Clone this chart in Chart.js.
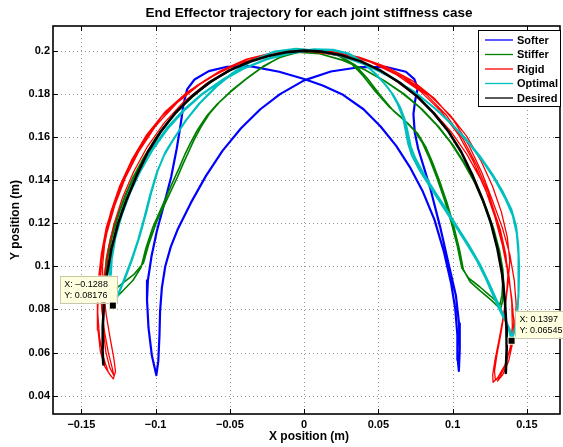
<!DOCTYPE html>
<html>
<head>
<meta charset="utf-8">
<title>End Effector trajectory</title>
<script src="https://cdn.jsdelivr.net/npm/chart.js@4.4.1/dist/chart.umd.min.js"></script>
<style>
  html, body { margin: 0; padding: 0; background: #ffffff; }
  #wrap { width: 563px; height: 447px; }
</style>
</head>
<body>
<div id="wrap"><canvas id="c" width="563" height="447"></canvas></div>
<script>
// ---- axis ticks ----
const xTickValues = [-0.15, -0.1, -0.05, 0, 0.05, 0.1, 0.15];
const xTickLabels = ['\u22120.15', '\u22120.1', '\u22120.05', '0', '0.05', '0.1', '0.15'];
const yTickValues = [0.04, 0.06, 0.08, 0.1, 0.12, 0.14, 0.16, 0.18, 0.2];
const yTickLabels = ['0.04', '0.06', '0.08', '0.1', '0.12', '0.14', '0.16', '0.18', '0.2'];

// ---- series names ----
const seriesNames = ['Softer', 'Stiffer', 'Rigid', 'Optimal', 'Desired'];

// ---- trajectories, [x, y] in metres ----
const softerPath = [
  [-0.0995,0.0495],[-0.0982,0.056],[-0.0974,0.068],[-0.097,0.079],[-0.0958,0.09],[-0.0935,0.1],[-0.0898,0.109],[-0.0852,0.117],
  [-0.0762,0.1295],[-0.0662,0.1418],[-0.055,0.1535],[-0.0425,0.164],[-0.0295,0.1728],[-0.0162,0.1798],[0.0,0.1862],[0.018,0.1903],
  [0.038,0.1924],[0.056,0.1923],[0.0685,0.1902],[0.0742,0.1868],[0.0765,0.1825],[0.0748,0.177],[0.0736,0.1705],[0.0745,0.162],
  [0.0768,0.1545],[0.0808,0.1455],[0.0852,0.1355],[0.0915,0.1185],[0.0975,0.1005],[0.1022,0.0865],[0.1043,0.0735],[0.1048,0.0615],[0.1042,0.0515],
  [0.1035,0.0565],[0.1032,0.068],[0.1018,0.08],[0.099,0.092],[0.0942,0.1065],[0.0878,0.1215],[0.08,0.1345],[0.0712,0.146],
  [0.062,0.1558],[0.0515,0.1648],[0.04,0.1728],[0.0262,0.1795],[0.0125,0.1838],[0.0,0.1868],[-0.0168,0.1902],[-0.0365,0.1928],
  [-0.052,0.1925],[-0.0642,0.1905],[-0.0738,0.1866],[-0.0788,0.182],[-0.0812,0.1752],[-0.0832,0.1655],[-0.0858,0.1545],[-0.0895,0.1415],
  [-0.0948,0.1275],[-0.0992,0.1162],[-0.1028,0.1045],[-0.1052,0.0935],[-0.1058,0.0845],[-0.1048,0.0715],[-0.1025,0.0585],[-0.0995,0.0495]
];

const stifferPath = [
  [-0.1288,0.0818],[-0.1315,0.0848],[-0.1332,0.0895],[-0.1336,0.096],[-0.1322,0.104],[-0.1295,0.113],[-0.1255,0.1225],[-0.1205,0.132],
  [-0.1145,0.1415],[-0.1075,0.1505],[-0.0995,0.1595],[-0.0905,0.1678],[-0.0805,0.1752],[-0.0695,0.182],[-0.0575,0.1878],[-0.0445,0.1928],
  [-0.0305,0.1965],[-0.016,0.1988],[-0.002,0.1998],[0.012,0.1995],[0.024,0.1975],
  [0.034,0.1935],[0.0425,0.1872],[0.051,0.1795],[0.0605,0.1718],[0.0695,0.1665],[0.0765,0.1615],[0.0818,0.1555],[0.0862,0.1485],
  [0.0912,0.1395],[0.0962,0.1295],[0.1008,0.1185],[0.1045,0.108],[0.1072,0.0985],
  [0.1118,0.0928],[0.1188,0.0885],[0.1262,0.0842],[0.1322,0.0802],
  [0.1338,0.0842],[0.1345,0.0905],[0.1338,0.0985],[0.1315,0.1075],[0.1278,0.117],[0.1228,0.1268],[0.1165,0.137],[0.109,0.1468],
  [0.1002,0.1562],[0.0905,0.1648],[0.0795,0.1728],[0.0675,0.1798],[0.0545,0.1858],[0.0405,0.1912],[0.0258,0.1955],[0.0108,0.1985],
  [-0.0035,0.1992],[-0.0158,0.197],
  [-0.0278,0.1926],[-0.038,0.1875],[-0.048,0.182],[-0.0565,0.1765],[-0.0635,0.171],[-0.0695,0.1645],[-0.0742,0.1585],[-0.0775,0.1535],
  [-0.0815,0.1475],[-0.0852,0.1415],[-0.0925,0.1308],[-0.0995,0.1203],[-0.1045,0.1105],[-0.1082,0.1015],
  [-0.1142,0.0965],[-0.1215,0.0925],[-0.1288,0.0885],[-0.1325,0.0862],
  [-0.1335,0.0885],[-0.1342,0.095],[-0.1332,0.1035],[-0.1305,0.1125],[-0.1265,0.1222],[-0.1212,0.1318],[-0.1152,0.1412],[-0.1082,0.1502],
  [-0.1002,0.1592],[-0.0912,0.1675],[-0.0812,0.175],[-0.0702,0.1818],[-0.058,0.1877],[-0.045,0.1927],[-0.031,0.1964],[-0.0165,0.1988],
  [-0.0025,0.1998],[0.011,0.1996],[0.022,0.198],
  [0.031,0.1945],[0.0395,0.1885],[0.048,0.181],[0.0575,0.1738],[0.0668,0.1682],[0.0742,0.163],[0.0798,0.157],[0.0845,0.1498],
  [0.0895,0.1408],[0.0945,0.1308],[0.0992,0.12],[0.1032,0.1092],[0.1062,0.0992],
  [0.1108,0.0945],[0.1182,0.0905],[0.1255,0.0862],[0.1318,0.0822],
  [0.1332,0.0865],[0.1338,0.093],[0.1328,0.101],[0.1302,0.1098],[0.1262,0.1192],[0.1212,0.1288],[0.1148,0.1388],[0.1072,0.1482],
  [0.0985,0.1575],[0.0888,0.1658],[0.078,0.1735],[0.0662,0.1802],[0.0535,0.1862],[0.0398,0.1915],[0.0252,0.1957],[0.0105,0.1985],
  [-0.0045,0.1993],[-0.0172,0.1966],
  [-0.0292,0.1918],[-0.0395,0.1865],[-0.0495,0.1808],[-0.0585,0.1752],[-0.0658,0.1695],[-0.0718,0.1632],[-0.0765,0.1572],[-0.0805,0.1515],
  [-0.0842,0.1455],[-0.0885,0.139],[-0.0952,0.1285],[-0.1018,0.1182],[-0.1065,0.1085],[-0.1098,0.0995],
  [-0.1152,0.0935],[-0.1222,0.0885],[-0.1298,0.0835]
];

const rigidPath = [
  [-0.1302,0.0492],[-0.1342,0.0535],[-0.1372,0.0605],[-0.1388,0.0705],[-0.1392,0.082],[-0.1385,0.094],[-0.1365,0.106],[-0.1332,0.118],
  [-0.1278,0.1302],[-0.1205,0.1425],[-0.1112,0.1542],[-0.0995,0.1655],[-0.0855,0.1758],[-0.0705,0.1842],[-0.0545,0.191],[-0.0375,0.1962],
  [-0.0195,0.1993],[-0.001,0.2006],[0.018,0.1998],[0.037,0.197],[0.0555,0.1925],[0.0725,0.1862],[0.0878,0.1778],[0.1008,0.1675],
  [0.1112,0.1558],[0.1198,0.1432],[0.1268,0.1305],[0.1335,0.1178],[0.1385,0.1055],[0.1415,0.0935],[0.1428,0.0822],[0.142,0.0722],
  [0.1392,0.0625],[0.1352,0.0542],[0.1302,0.0482],[0.1272,0.0462],[0.127,0.0498],[0.1285,0.0565],[0.131,0.065],[0.1338,0.0755],[0.1362,0.0865],
  [0.1372,0.0955],[0.1358,0.1055],[0.1322,0.1168],[0.1265,0.1285],[0.1188,0.1405],[0.1095,0.152],[0.0988,0.1625],[0.0868,0.1718],
  [0.0732,0.1802],[0.058,0.1878],[0.041,0.1938],[0.0225,0.1978],[0.0035,0.1997],[-0.0155,0.1988],[-0.0338,0.1958],[-0.051,0.1908],
  [-0.0668,0.1842],[-0.0812,0.1762],[-0.0942,0.1665],[-0.1055,0.1555],[-0.1148,0.1438],[-0.1225,0.1315],[-0.1282,0.1192],[-0.1322,0.1068],
  [-0.1348,0.0945],[-0.1358,0.0822],[-0.1352,0.0702],[-0.1335,0.0602],[-0.1308,0.0528],[-0.1282,0.0495],
  [-0.1292,0.0528],[-0.1318,0.0598],[-0.1342,0.0688],[-0.1362,0.0795],[-0.1372,0.0912],[-0.1365,0.1022],[-0.1342,0.1135],[-0.1302,0.1252],
  [-0.1242,0.1372],[-0.1162,0.1492],[-0.1062,0.1608],[-0.0938,0.1715],[-0.0792,0.1805],[-0.063,0.1878],[-0.0455,0.1935],[-0.027,0.1975],
  [-0.008,0.1997],[0.0112,0.1998],[0.0302,0.1978],[0.0488,0.1938],[0.0662,0.1878],[0.082,0.1798],[0.0958,0.17],[0.1072,0.1588],
  [0.1165,0.1465],[0.1242,0.1338],[0.1302,0.1208],[0.1348,0.1078],[0.138,0.0952],[0.1398,0.0832],[0.1402,0.0722],[0.1388,0.0625],
  [0.1358,0.0545],[0.1318,0.0488],[0.1288,0.0472],[0.1282,0.0512],[0.1298,0.0588],[0.1325,0.0688],[0.1352,0.0802],[0.1372,0.0915],
  [0.1385,0.1025],[0.1368,0.1135],[0.1328,0.1252],[0.1268,0.1372],[0.119,0.149],[0.1095,0.1602],[0.0982,0.1702],[0.0852,0.1788],
  [0.0705,0.1862],[0.0542,0.1922],[0.0365,0.1968],[0.0178,0.1995],[-0.0012,0.2003],[-0.0202,0.1992],[-0.0388,0.196],[-0.0565,0.1906],
  [-0.0728,0.1835],[-0.0875,0.1748],[-0.1005,0.1645],[-0.1115,0.153],[-0.1205,0.1408],[-0.1275,0.1282],[-0.1328,0.1155],[-0.1365,0.1028],
  [-0.1385,0.0905],[-0.139,0.0785],[-0.1378,0.0672],[-0.1352,0.0578],[-0.1318,0.0508],[-0.1285,0.0478],[-0.127,0.0512],
  [-0.1282,0.0575],[-0.1305,0.0662],[-0.1332,0.0772],[-0.1352,0.0885],[-0.1358,0.0998],[-0.1342,0.1112],[-0.1305,0.1228],[-0.1248,0.1348],
  [-0.1172,0.1468],[-0.1078,0.1585],[-0.0962,0.1692],[-0.0825,0.1785],[-0.0668,0.1862],[-0.0495,0.1924],[-0.0312,0.1968],[-0.0122,0.1994],
  [0.007,0.2],[0.0262,0.1984],[0.0448,0.1946],[0.0622,0.1888],[0.0782,0.1812],[0.0922,0.1718],[0.1042,0.1608],[0.114,0.1485],
  [0.122,0.1358],[0.1285,0.1228],[0.1335,0.1098],[0.1372,0.0972],[0.1398,0.0852],[0.1412,0.0745],[0.1405,0.0648],[0.1378,0.0562],
  [0.1338,0.0498],[0.1302,0.0468]
];

const optimalPath = [
  [-0.1272,0.0828],[-0.1292,0.0875],[-0.1302,0.095],[-0.1295,0.1035],[-0.127,0.1135],[-0.1228,0.1238],[-0.1172,0.134],[-0.1102,0.1442],
  [-0.1018,0.1542],[-0.0922,0.1635],[-0.0812,0.172],[-0.069,0.1795],[-0.0555,0.186],[-0.041,0.1915],[-0.0255,0.1958],[-0.0095,0.1988],
  [0.006,0.2003],[0.0185,0.2003],[0.0285,0.1988],
  [0.038,0.1952],[0.0465,0.1902],[0.0535,0.1852],[0.0585,0.1808],[0.063,0.1752],[0.0665,0.1692],[0.0685,0.1625],[0.07,0.157],
  [0.0725,0.1515],[0.0775,0.1448],[0.0842,0.1375],[0.0922,0.129],[0.1002,0.1205],[0.1082,0.1118],[0.1158,0.1033],[0.1222,0.0945],
  [0.1275,0.0862],[0.1325,0.0785],[0.1372,0.0725],[0.1397,0.06545],
  [0.1418,0.0702],[0.1432,0.0768],[0.1442,0.0855],[0.1445,0.0952],[0.1442,0.1055],[0.1432,0.1152],[0.1405,0.1235],[0.1352,0.1318],
  [0.1282,0.1405],[0.1202,0.1488],[0.1112,0.1568],[0.1012,0.1645],[0.0898,0.1722],[0.0768,0.1795],[0.0622,0.1862],[0.0462,0.1922],
  [0.029,0.1968],[0.0112,0.1998],[-0.0055,0.2008],[-0.0198,0.1996],
  [-0.0335,0.1958],[-0.0468,0.1902],[-0.0588,0.1835],[-0.0695,0.1762],[-0.0792,0.168],[-0.0875,0.1595],[-0.0935,0.1528],[-0.0985,0.1445],
  [-0.1028,0.1345],[-0.1065,0.1245],[-0.1108,0.1138],[-0.1155,0.1038],[-0.1205,0.0945],[-0.1252,0.0868],[-0.1282,0.0822],
  [-0.1298,0.0882],[-0.131,0.0962],[-0.1302,0.1048],[-0.1275,0.1148],[-0.1232,0.125],[-0.1175,0.1352],[-0.1105,0.1452],[-0.102,0.155],
  [-0.0922,0.1642],[-0.081,0.1726],[-0.0686,0.18],[-0.055,0.1865],[-0.0403,0.1919],[-0.0248,0.1962],[-0.0088,0.1992],[0.0068,0.2006],
  [0.0195,0.2004],[0.0305,0.1985],
  [0.0398,0.1945],[0.0482,0.1892],[0.055,0.184],[0.0602,0.1792],[0.0648,0.1735],[0.0682,0.1672],[0.0702,0.1608],[0.0718,0.1555],
  [0.0748,0.1502],[0.0802,0.1432],[0.0872,0.1355],[0.0952,0.127],[0.1032,0.1182],[0.1112,0.1095],[0.1185,0.1008],[0.1245,0.0922],
  [0.1298,0.084],[0.1348,0.0765],[0.1385,0.0705],[0.1402,0.0668],
  [0.1425,0.0728],[0.1438,0.0805],[0.1445,0.0895],[0.1448,0.0995],[0.1442,0.1095],[0.1428,0.1185],[0.1395,0.1265],[0.1338,0.1345],
  [0.1265,0.143],[0.1182,0.1512],[0.109,0.159],[0.0985,0.1666],[0.0868,0.174],[0.0735,0.1812],[0.0585,0.1876],[0.0425,0.1932],
  [0.0252,0.1975],[0.0075,0.2],[-0.008,0.2006],[-0.0215,0.1992],
  [-0.0352,0.1952],[-0.0485,0.1895],[-0.0605,0.1826],[-0.071,0.1752],[-0.0805,0.1668],[-0.0885,0.1582],[-0.0945,0.1512],[-0.0995,0.1428],
  [-0.1038,0.1328],[-0.1075,0.1228],[-0.1118,0.1122],[-0.1165,0.1025],[-0.1215,0.0935],[-0.1258,0.0862],[-0.1278,0.0832]
];

const desiredPath = [
  [-0.1352,0.0545],[-0.1358,0.062],[-0.1356,0.072],[-0.1346,0.084],[-0.1328,0.096],[-0.1298,0.108],[-0.1252,0.12],[-0.1195,0.131],
  [-0.1128,0.142],[-0.1052,0.153],[-0.0962,0.1628],[-0.0862,0.1715],[-0.0752,0.179],[-0.0632,0.1855],[-0.0502,0.1908],[-0.0372,0.1947],
  [-0.0242,0.1975],[-0.0112,0.1993],[0.0,0.2],[0.0122,0.1995],[0.0252,0.1978],[0.0382,0.195],[0.0512,0.1908],[0.0642,0.1852],
  [0.0762,0.1787],[0.0872,0.171],[0.0972,0.1625],[0.1058,0.153],[0.1135,0.142],[0.1202,0.131],[0.1258,0.12],[0.1302,0.108],
  [0.1334,0.096],[0.1352,0.084],[0.1362,0.072],[0.1364,0.062],[0.1358,0.0505]
];

// ---- data cursor readouts ----
const tipPoints = [[-0.1288, 0.08176], [0.1397, 0.06545]];

// ---- drawing setup ----
const FONT = '"Liberation Sans", Arial, Helvetica, sans-serif';
const colors = ['#0000ff', '#008000', '#ff0000', '#00bfbf', '#000000'];
const widths = [2.2, 1.6, 1.3, 2.0, 2.6];
const paths = [softerPath, stifferPath, rigidPath, optimalPath, desiredPath];

Chart.defaults.font.family = FONT;
Chart.defaults.color = '#000';

const toXY = pts => pts.map(p => ({ x: p[0], y: p[1] }));

const datasets = seriesNames.map((name, i) => ({
  label: name,
  data: toXY(paths[i]),
  borderColor: colors[i],
  backgroundColor: colors[i],
  borderWidth: widths[i],
  showLine: true,
  pointRadius: 0,
  pointHoverRadius: 0,
  tension: 0,
  fill: false,
  borderJoinStyle: 'round',
  borderCapStyle: 'round',
  order: seriesNames.length - i   // later series are painted over earlier ones
}));

// dotted grid, inward ticks and the axes box
const axesBox = {
  id: 'axesBox',
  beforeDatasetsDraw(chart) {
    const { ctx, chartArea: a, scales: { x, y } } = chart;
    ctx.save();
    ctx.strokeStyle = 'rgba(0,0,0,0.42)';
    ctx.lineWidth = 1;
    ctx.setLineDash([1, 3]);
    xTickValues.forEach(v => {
      const px = Math.round(x.getPixelForValue(v)) + 0.5;
      ctx.beginPath(); ctx.moveTo(px, a.top); ctx.lineTo(px, a.bottom); ctx.stroke();
    });
    yTickValues.forEach(v => {
      const py = Math.round(y.getPixelForValue(v)) + 0.5;
      ctx.beginPath(); ctx.moveTo(a.left, py); ctx.lineTo(a.right, py); ctx.stroke();
    });
    ctx.restore();
  },
  afterDatasetsDraw(chart) {
    const { ctx, chartArea: a, scales: { x, y } } = chart;
    ctx.save();
    ctx.strokeStyle = '#000';
    ctx.lineWidth = 1;
    const tl = 5;
    xTickValues.forEach(v => {
      const px = Math.round(x.getPixelForValue(v)) + 0.5;
      ctx.beginPath();
      ctx.moveTo(px, a.bottom); ctx.lineTo(px, a.bottom - tl);
      ctx.moveTo(px, a.top); ctx.lineTo(px, a.top + tl);
      ctx.stroke();
    });
    yTickValues.forEach(v => {
      const py = Math.round(y.getPixelForValue(v)) + 0.5;
      ctx.beginPath();
      ctx.moveTo(a.left, py); ctx.lineTo(a.left + tl, py);
      ctx.moveTo(a.right, py); ctx.lineTo(a.right - tl, py);
      ctx.stroke();
    });
    ctx.lineWidth = 1.6;
    ctx.strokeRect(a.left, a.top, a.right - a.left, a.bottom - a.top);
    ctx.restore();
  }
};

// title, axis titles, legend and data cursor boxes
const annotations = {
  id: 'annotations',
  afterDraw(chart) {
    const { ctx, chartArea: a, scales: { x, y } } = chart;
    ctx.save();
    ctx.fillStyle = '#000';

    // title
    ctx.font = 'bold 13.5px ' + FONT;
    ctx.textAlign = 'center';
    ctx.textBaseline = 'alphabetic';
    ctx.fillText('End Effector trajectory for each joint stiffness case', 309, 17);

    // axis titles
    ctx.font = 'bold 12px ' + FONT;
    ctx.textBaseline = 'middle';
    ctx.fillText('X position (m)', 309, 437);
    ctx.save();
    ctx.translate(16, (a.top + a.bottom) / 2);
    ctx.rotate(-Math.PI / 2);
    ctx.fillText('Y position (m)', 0, 0);
    ctx.restore();

    // legend
    const lx = 478.5, ly = 30.5, lw = 82, lh = 76;
    ctx.fillStyle = '#fff';
    ctx.fillRect(lx, ly, lw, lh);
    ctx.strokeStyle = '#000';
    ctx.lineWidth = 1;
    ctx.strokeRect(lx, ly, lw, lh);
    ctx.font = 'bold 11px ' + FONT;
    ctx.textAlign = 'left';
    ctx.textBaseline = 'middle';
    seriesNames.forEach((name, i) => {
      const ry = 40 + i * 14.5;
      ctx.strokeStyle = colors[i];
      ctx.lineWidth = 1.3;
      ctx.beginPath(); ctx.moveTo(485, ry); ctx.lineTo(513, ry); ctx.stroke();
      ctx.fillStyle = '#000';
      ctx.fillText(name, 517, ry + 0.5);
    });

    // data cursors
    const fmt = v => String(v).replace('-', '\u2013');
    tipPoints.forEach((p, i) => {
      const px = x.getPixelForValue(p[0]);
      const py = y.getPixelForValue(p[1]);
      const bw = 57, bh = 27;
      let bx, by;
      if (i === 0) { bx = px + 4 - bw; by = py - 3 - bh; }
      else { bx = px + 3.5; by = py - 30; }
      ctx.fillStyle = '#ffffe0';
      ctx.fillRect(bx, by, bw, bh);
      ctx.strokeStyle = '#c8c8a8';
      ctx.lineWidth = 1;
      ctx.strokeRect(Math.round(bx) + 0.5, Math.round(by) + 0.5, bw, bh);
      ctx.fillStyle = '#000';
      ctx.font = '9px ' + FONT;
      ctx.textAlign = 'left';
      ctx.textBaseline = 'alphabetic';
      ctx.fillText('X: ' + fmt(p[0]), bx + 4.5, by + 11.5);
      ctx.fillText('Y: ' + fmt(p[1]), bx + 4.5, by + 22);
      ctx.fillStyle = '#ffffe0';
      ctx.fillRect(px - 4, py - 4, 8, 8);
      ctx.fillStyle = '#000';
      ctx.fillRect(px - 3, py - 3, 6, 6);
    });
    ctx.restore();
  }
};

new Chart(document.getElementById('c'), {
  type: 'scatter',
  data: { datasets },
  options: {
    responsive: false,
    animation: false,
    devicePixelRatio: 1,
    layout: { padding: { top: 26, right: 3, bottom: 0, left: 0 } },
    plugins: {
      legend: { display: false },
      tooltip: { enabled: false },
      title: { display: false }
    },
    events: [],
    scales: {
      x: {
        type: 'linear',
        min: -0.1691,
        max: 0.1723,
        grid: { display: false, drawTicks: false },
        border: { display: false },
        afterBuildTicks: s => { s.ticks = xTickValues.map(v => ({ value: v })); },
        afterFit: s => { s.height = 33; },
        ticks: {
          autoSkip: false,
          maxRotation: 0,
          padding: 4,
          font: { size: 11, weight: 'bold' },
          callback: (v, i) => xTickLabels[i]
        }
      },
      y: {
        type: 'linear',
        min: 0.0315,
        max: 0.2114,
        grid: { display: false, drawTicks: false },
        border: { display: false },
        afterBuildTicks: s => { s.ticks = yTickValues.map(v => ({ value: v })); },
        afterFit: s => { s.width = 53; },
        ticks: {
          autoSkip: false,
          padding: 3,
          font: { size: 11, weight: 'bold' },
          callback: (v, i) => yTickLabels[i]
        }
      }
    }
  },
  plugins: [axesBox, annotations]
});
</script>
</body>
</html>
